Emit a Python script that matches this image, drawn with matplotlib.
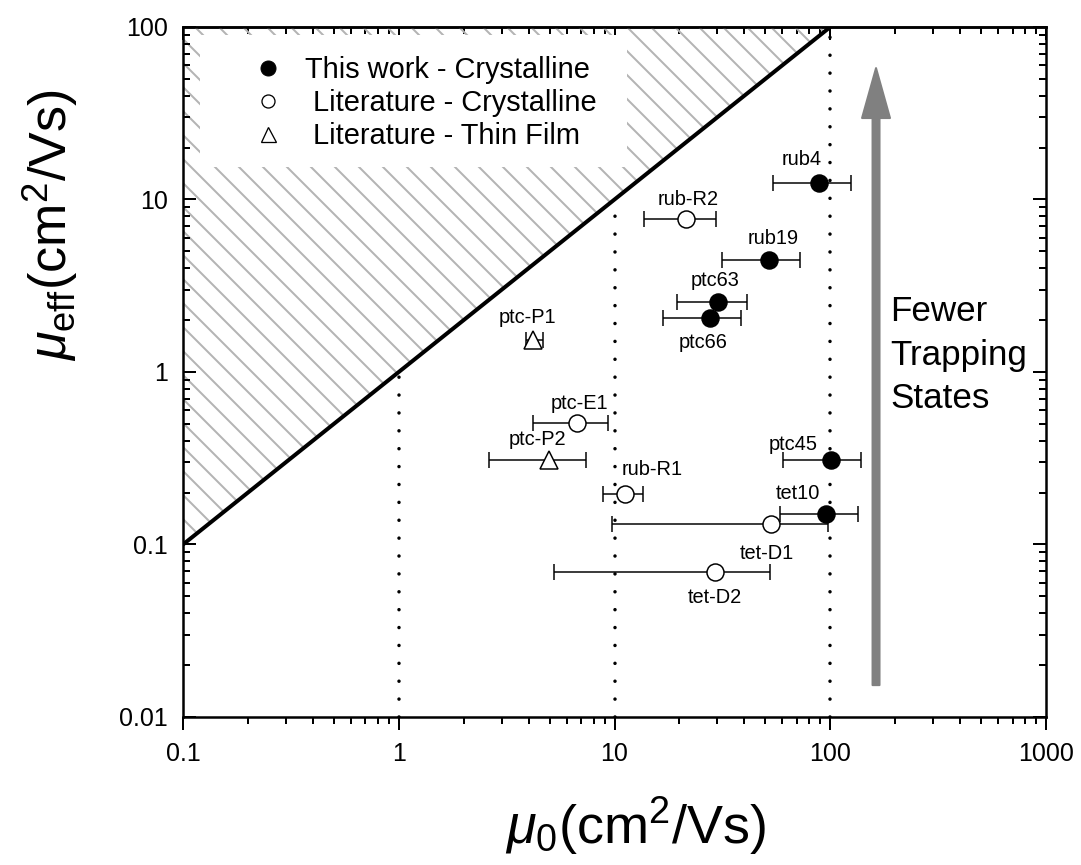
import matplotlib
matplotlib.use("Agg")
import matplotlib.pyplot as plt
import numpy as np
from matplotlib.lines import Line2D
from matplotlib.patches import Rectangle, FancyArrowPatch, ArrowStyle

plt.rcParams['font.family'] = ['Liberation Sans', 'DejaVu Sans']
plt.rcParams['mathtext.fontset'] = 'custom'
plt.rcParams['mathtext.rm'] = 'Liberation Sans'
plt.rcParams['mathtext.it'] = 'Liberation Sans:italic'
plt.rcParams['hatch.linewidth'] = 2.0

# ---------------- data ----------------
# This work - Crystalline (filled circles)
work_names = ['rub4', 'rub19', 'ptc63', 'ptc66', 'ptc45', 'tet10']
work_mu0 = [88.7, 52.0, 30.2, 27.7, 101, 95.6]
work_mueff = [12.5, 4.46, 2.55, 2.06, 0.31, 0.150]
work_lo = [54.3, 31.5, 19.5, 16.8, 60.4, 58.5]
work_hi = [125, 72.4, 41.1, 38.6, 139, 134]

# Literature - Crystalline (open circles)
litc_names = ['rub-R2', 'ptc-E1', 'rub-R1', 'tet-D1', 'tet-D2']
litc_mu0 = [21.4, 6.70, 11.2, 53.1, 29.2]
litc_mueff = [7.7, 0.506, 0.196, 0.131, 0.0693]
litc_lo = [13.7, 4.19, 8.85, 9.73, 5.25]
litc_hi = [29.5, 9.33, 13.6, 97.7, 52.6]

# Literature - Thin Film (open triangles)
litf_names = ['ptc-P1', 'ptc-P2']
litf_mu0 = [4.19, 4.97]
litf_mueff = [1.53, 0.31]
litf_lo = [3.89, 2.62]
litf_hi = [4.66, 7.38]

# label offsets (points, dx, dy up)
work_off = [(-17, 23), (4, 21), (-3, 21), (-7, -25), (-38, 15), (-28, 21)]
litc_off = [(2, 20), (3, 20), (27, 25), (-4, -29), (0, -26)]
litf_off = [(-5, 23), (-11, 20)]

legend_labels = ['This work - Crystalline', ' Literature - Crystalline', ' Literature - Thin Film']
x_ticks = [0.1, 1, 10, 100, 1000]
x_ticklabels = ['0.1', '1', '10', '100', '1000']
y_ticks = [0.01, 0.1, 1, 10, 100]
y_ticklabels = ['0.01', '0.1', '1', '10', '100']
diag = [0.1, 100]          # mu_eff = mu_0 limit
vline_x = [1, 10, 100]     # dotted guides up to the diagonal
arrow_x = 163
arrow_y = [0.0153, 57.8]

W, H = 1081, 865
fig = plt.figure(figsize=(W / 72, H / 72), dpi=72)
ax = fig.add_axes([183 / W, 1 - 717 / H, (1046 - 183) / W, (717 - 27) / H])
ax.set_xscale('log')
ax.set_yscale('log')
ax.set_xlim(0.1, 1000)
ax.set_ylim(0.01, 100)

# hatched forbidden region
ax.fill([diag[0], diag[0], diag[1]], [diag[0], diag[1], diag[1]],
        facecolor='none', edgecolor='#b4b4b4', linewidth=0, hatch='\\', zorder=1)
ax.plot(diag, diag, color='black', lw=4, zorder=3, solid_capstyle='butt')

# white legend box
ax.add_patch(Rectangle((17 / 863, 1 - 140 / 690), (627 - 200) / 863, (167 - 35) / 690,
                       transform=ax.transAxes, facecolor='white', edgecolor='none', zorder=2))

# dotted verticals
for vx in vline_x:
    ax.plot([vx, vx], [0.01, vx], color='black', lw=3.5, linestyle=(0, (0.01, 5.1)),
            dash_capstyle='round', zorder=2)

def draw(xs, ys, lo, hi, marker, mfc, names, offs):
    xs = np.array(xs); ys = np.array(ys)
    err = [xs - np.array(lo), np.array(hi) - xs]
    ax.errorbar(xs, ys, xerr=err, fmt='none', ecolor='black', elinewidth=1.5,
                capsize=8, capthick=1.5, zorder=4)
    ms = 18 if marker == '^' else 17
    ax.plot(xs, ys, linestyle='none', marker=marker, ms=ms, mfc=mfc, mec='black',
            mew=1.5, zorder=5)
    for n, x, y, o in zip(names, xs, ys, offs):
        ax.annotate(n, (x, y), xytext=o, textcoords='offset points', ha='center',
                    va='center', fontsize=20, zorder=6)

draw(work_mu0, work_mueff, work_lo, work_hi, 'o', 'black', work_names, work_off)
draw(litc_mu0, litc_mueff, litc_lo, litc_hi, 'o', 'white', litc_names, litc_off)
draw(litf_mu0, litf_mueff, litf_lo, litf_hi, '^', 'white', litf_names, litf_off)

# arrow
arr = FancyArrowPatch((arrow_x, arrow_y[0]), (arrow_x, arrow_y[1]),
                      arrowstyle=ArrowStyle.Simple(head_length=50, head_width=28, tail_width=7),
                      mutation_scale=1, color='#808080', lw=2, joinstyle='round',
                      capstyle='round', shrinkA=0, shrinkB=0, zorder=4)
ax.add_patch(arr)
ax.text((890 - 183) / 863, 1 - (355 - 27) / 690, 'Fewer\nTrapping\nStates',
        transform=ax.transAxes, ha='left', va='center', fontsize=35, linespacing=1.42)

# legend
handles = [Line2D([], [], ls='none', marker='o', ms=15, mfc='black', mec='black'),
           Line2D([], [], ls='none', marker='o', ms=13, mfc='white', mec='black', mew=1.3),
           Line2D([], [], ls='none', marker='^', ms=15, mfc='white', mec='black', mew=1.3)]
leg = ax.legend(handles, legend_labels, loc='upper left',
                bbox_to_anchor=((253 - 183) / 863, 1 - (56 - 27) / 690),
                frameon=False, fontsize=29, handlelength=1.0, handletextpad=0.78,
                labelspacing=0.18, borderpad=0, borderaxespad=0)
leg.set_zorder(7)

# ticks
ax.set_xticks(x_ticks)
ax.set_xticklabels(x_ticklabels)
ax.set_yticks(y_ticks)
ax.set_yticklabels(y_ticklabels)
ax.tick_params(axis='x', which='major', direction='out', length=13, width=2, labelsize=25, pad=12)
ax.tick_params(axis='x', which='minor', direction='out', length=7, width=2)
ax.tick_params(axis='y', which='major', direction='in', length=13, width=2, labelsize=25,
               pad=15, right=True)
ax.tick_params(axis='y', which='minor', direction='in', length=7, width=2, right=True)
ax.yaxis.set_minor_formatter(matplotlib.ticker.NullFormatter())
ax.xaxis.set_minor_formatter(matplotlib.ticker.NullFormatter())
sec = ax.secondary_xaxis('top')
sec.set_xticks(x_ticks)
sec.tick_params(axis='x', which='major', direction='in', length=13, width=2, labeltop=False)
sec.tick_params(axis='x', which='minor', direction='in', length=7, width=2)
sec.xaxis.set_minor_formatter(matplotlib.ticker.NullFormatter())
for s in ax.spines.values():
    s.set_linewidth(2.5)
sec.spines['top'].set_linewidth(2.5)

# axis labels
fig.text(505 / W, 21 / H, r'$\mu_{\mathrm{0}}$(cm$^{2}$/Vs)', fontsize=54,
         ha='left', va='baseline')
fig.text(50 / W, 1 - 225 / H, r'$\mu_{\mathrm{eff}}$(cm$^{2}$/Vs)', fontsize=52,
         rotation=90, ha='center', va='center')

fig.savefig('out.png', dpi=72)
